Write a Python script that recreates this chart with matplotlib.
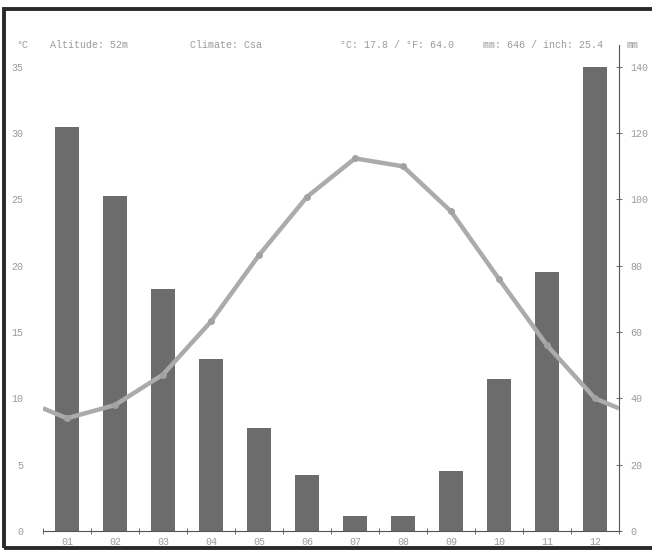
import matplotlib
matplotlib.use("Agg")
import matplotlib.pyplot as plt
from matplotlib.patches import Rectangle
import numpy as np

months = ["01", "02", "03", "04", "05", "06", "07", "08", "09", "10", "11", "12"]
precip_mm = [122, 101, 73, 52, 31, 17, 4.5, 4.5, 18, 46, 78, 140]
temp_c = [8.5, 9.5, 11.8, 15.8, 20.8, 25.2, 28.1, 27.5, 24.1, 19.0, 14.0, 10.0]
temp_ticks = [0, 5, 10, 15, 20, 25, 30, 35]
mm_ticks = [0, 20, 40, 60, 80, 100, 120, 140]
header_left = ["°C", "Altitude: 52m", "Climate: Csa"]
header_right = ["°C: 17.8 / °F: 64.0", "mm: 646 / inch: 25.4", "mm"]

W, H = 652, 552
fig = plt.figure(figsize=(W / 100, H / 100), dpi=100)
fig.patch.set_facecolor("white")

def fx(px):
    return px / W

def fy(py):
    return 1 - py / H

ax_l, ax_r, ax_b, ax_t = 43, 619, 531, 45
ax = fig.add_axes([fx(ax_l), fy(ax_b), fx(ax_r - ax_l), fy(ax_t) - fy(ax_b)])
ax2 = ax.twinx()

mono = "Liberation Mono"
txt_col = "#9a9a9a"
fs = 7.2

x = np.arange(len(months)) + 0.5
temp_top = 36.65
ax.bar(x, precip_mm, width=0.5, color="#6c6c6c", zorder=2)
ax.set_xlim(0, 12)
ax.set_ylim(0, temp_top * 4)

xe = np.concatenate([[0], x, [12]])
edge = (temp_c[0] + temp_c[-1]) / 2
te = np.concatenate([[edge], temp_c, [edge]])
ax2.plot(xe, te, color="#ababab", lw=3.2, solid_capstyle="butt", zorder=3)
ax2.plot(x, temp_c, "o", color="#a2a2a2", ms=4, zorder=4)
ax2.set_ylim(0, temp_top)

for a in (ax, ax2):
    for s in ("top", "left"):
        a.spines[s].set_visible(False)
    a.set_facecolor("none")
ax2.spines["right"].set_visible(False)
ax2.spines["bottom"].set_visible(False)
ax.spines["right"].set_color("#555555")
ax.spines["right"].set_linewidth(0.8)
ax.spines["bottom"].set_color("#555555")
ax.spines["bottom"].set_linewidth(0.8)

# precipitation axis on right
ax.yaxis.tick_right()
ax.set_yticks(mm_ticks)
ax.set_yticklabels([str(v) for v in mm_ticks], fontfamily=mono, fontsize=fs, color=txt_col)
ax.tick_params(axis="y", direction="inout", length=4, width=0.6, color="#555555", pad=6)

# temperature axis on left
ax2.yaxis.tick_left()
ax2.set_yticks(temp_ticks)
ax2.set_yticklabels([str(v) for v in temp_ticks], fontfamily=mono, fontsize=fs, color=txt_col)
ax2.tick_params(axis="y", length=0, pad=14)

# month axis
ax.set_xticks(np.arange(0, 13), minor=False)
ax.set_xticklabels([])
ax.tick_params(axis="x", direction="inout", length=4, width=0.6, color="#555555")
ax.set_xticks(x, minor=True)
ax.set_xticklabels(months, minor=True, fontfamily=mono, fontsize=fs, color=txt_col)
ax.tick_params(axis="x", which="minor", length=0, pad=4)

# header
fig.text(fx(22), fy(45), header_left[0], fontfamily=mono, fontsize=fs, color=txt_col, va="center", ha="center")
fig.text(fx(50), fy(45), header_left[1], fontfamily=mono, fontsize=fs, color=txt_col, va="center", ha="left")
fig.text(fx(190), fy(45), header_left[2], fontfamily=mono, fontsize=fs, color=txt_col, va="center", ha="left")
fig.text(fx(340), fy(45), header_right[0], fontfamily=mono, fontsize=fs, color=txt_col, va="center", ha="left")
fig.text(fx(483), fy(45), header_right[1], fontfamily=mono, fontsize=fs, color=txt_col, va="center", ha="left")
fig.text(fx(633), fy(45), header_right[2], fontfamily=mono, fontsize=fs, color=txt_col, va="center", ha="center")

# scanned frame border
fig.patches.append(Rectangle((fx(4), fy(548)), fx(660 - 4), fy(9) - fy(548),
                             transform=fig.transFigure, fill=False,
                             edgecolor="#2a2a2a", lw=2.8))

fig.savefig("out.png", dpi=100)
